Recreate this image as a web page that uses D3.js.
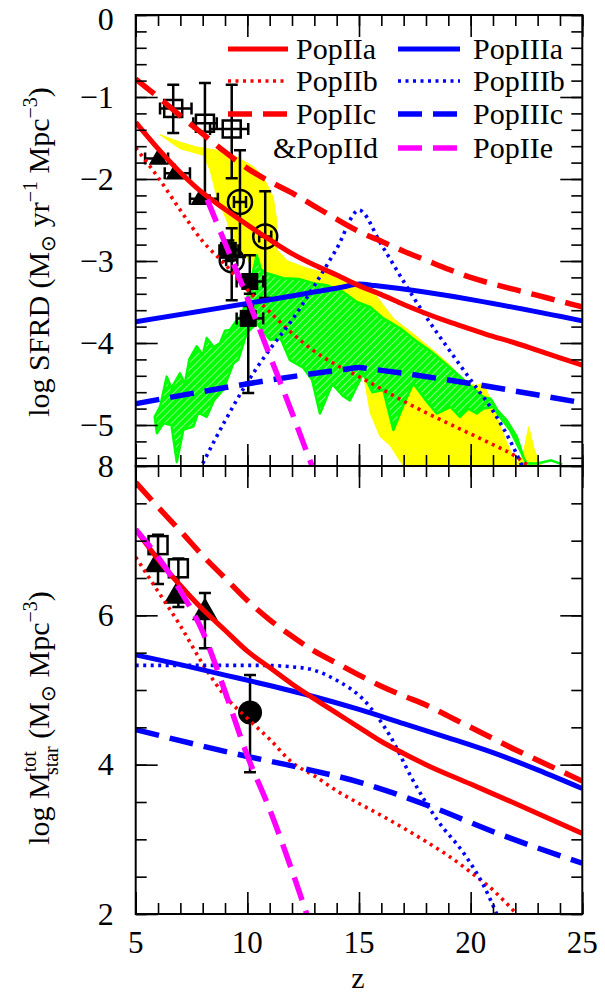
<!DOCTYPE html>
<html><head><meta charset="utf-8">
<script src="https://cdn.jsdelivr.net/npm/d3@7"></script>
<style>
body{margin:0;background:#fff}
svg{display:block}
text{font-family:"Liberation Serif","Times New Roman",serif;fill:#000}
</style>
</head><body>
<svg id="c" width="605" height="995"></svg>
<script>
// ---------------- DATA ----------------
// Top panel: log SFRD vs z
const sfrdPopIIa  = [[5,-1.31],[6,-1.63],[7,-1.92],[8,-2.17],[9,-2.37],[10,-2.56],[11,-2.74],[12,-2.91],[13,-3.05],[14,-3.17],[15,-3.3],[16,-3.41],[17,-3.53],[18,-3.64],[19,-3.74],[20,-3.83],[21,-3.92],[22,-4.0],[23,-4.09],[24,-4.18],[25,-4.27]];
const sfrdPopIIb  = [[5,-1.62],[6,-1.98],[7,-2.38],[8,-2.76],[9,-3.04],[10,-3.35],[11,-3.62],[12,-3.88],[13,-4.1],[14,-4.27],[15,-4.41],[16,-4.56],[17,-4.71],[18,-4.85],[19,-4.98],[20,-5.11],[21,-5.24],[22,-5.38],[22.6,-5.5]];
const sfrdPopIIc  = [[5,-0.78],[6,-1.0],[7,-1.23],[8,-1.45],[9,-1.67],[10,-1.87],[11,-2.03],[12,-2.17],[13,-2.33],[14,-2.49],[15,-2.64],[16,-2.76],[17,-2.88],[18,-2.99],[19,-3.1],[20,-3.2],[21,-3.28],[22,-3.35],[23,-3.42],[24,-3.49],[25,-3.56]];
const sfrdPopIIe  = [[8.2,-2.25],[9,-2.78],[10,-3.45],[11,-4.15],[12,-4.85],[12.8,-5.43],[12.9,-5.5]];
const sfrdPopIIIa = [[5,-3.74],[14.4,-3.31],[15,-3.28],[15.7,-3.3],[25,-3.73]];
const sfrdPopIIIb = [[8,-5.47],[9,-4.95],[10,-4.48],[11,-4.08],[12,-3.72],[13,-3.3],[14,-2.85],[15,-2.38],[16,-2.8],[17,-3.25],[18,-3.68],[19,-4.07],[20,-4.45],[21,-4.83],[22,-5.32],[22.3,-5.5]];
const sfrdPopIIIc = [[5,-4.74],[14.4,-4.32],[15,-4.3],[15.6,-4.32],[25,-4.73]];

// shaded regions (top panel)
const yellowUpper = [[6.09,-1.46],[6.98,-1.55],[7.73,-1.61],[8.63,-1.65],[9.52,-1.73],[10.27,-1.85],[10.7,-1.97],[11.16,-2.22],[11.31,-2.5],[11.35,-2.87],[11.8,-3.0],[12.6,-3.08],[13.5,-3.15],[14.59,-3.22],[15.2,-3.3],[15.79,-3.43],[16.54,-3.7],[17.4,-3.88],[18.33,-4.09],[19.0,-4.25],[19.67,-4.45],[20.2,-4.52],[20.57,-4.49],[20.9,-4.7],[21.17,-4.9],[21.6,-5.2],[22.06,-5.47],[22.35,-5.35],[22.6,-5.02],[22.85,-5.3],[23.15,-5.5]];
const yellowLower = [[23.15,-5.5],[16.98,-5.5],[16.4,-5.25],[15.94,-5.14],[15.5,-4.85],[15.19,-4.37],[14.2,-4.2],[13,-3.95],[12,-3.7],[11,-3.4],[10.3,-3.15],[9.97,-2.95],[9.52,-2.87],[9.07,-2.5],[8.63,-2.22],[8.33,-1.89],[8.03,-1.71],[6.98,-1.63],[6.09,-1.46]];
const greenUpper = [[5.85,-4.9],[6.09,-4.78],[6.39,-4.41],[6.6,-4.55],[6.98,-4.37],[7.2,-4.5],[7.4,-4.2],[7.73,-4.04],[8.0,-4.15],[8.18,-3.94],[8.5,-4.05],[8.78,-4.0],[9.0,-3.85],[9.22,-3.84],[9.45,-3.75],[9.67,-3.68],[9.9,-3.55],[10.12,-3.31],[10.27,-3.11],[10.42,-2.93],[10.6,-3.1],[10.87,-3.15],[11.61,-3.21],[12.3,-3.22],[12.95,-3.27],[13.6,-3.3],[14.3,-3.38],[14.9,-3.5],[15.49,-3.56],[16.09,-3.7],[16.84,-3.82],[17.58,-3.98],[18.3,-4.12],[19.08,-4.3],[19.82,-4.48],[20.57,-4.66],[20.9,-4.68],[21.2,-4.82],[21.61,-4.94],[22.06,-5.14],[22.36,-5.39],[22.5,-5.47]];
const greenLower = [[22.5,-5.47],[22.2,-5.3],[21.76,-5.06],[21.3,-4.9],[21.02,-4.78],[20.57,-4.8],[20.27,-4.86],[19.9,-4.8],[19.52,-4.9],[19.1,-4.78],[18.48,-4.86],[18.0,-4.7],[17.43,-4.49],[17.0,-4.75],[16.54,-5.06],[16.3,-4.8],[16.09,-4.57],[15.6,-4.6],[15.19,-4.37],[14.59,-4.7],[14.3,-4.65],[13.8,-4.5],[13.25,-4.86],[12.9,-4.45],[12.5,-4.3],[11.91,-4.21],[11.5,-3.95],[11.01,-3.96],[10.42,-3.76],[9.97,-3.88],[9.6,-4.2],[9.37,-4.25],[8.92,-4.57],[8.5,-4.7],[8.18,-4.9],[7.8,-4.85],[7.58,-5.02],[7.13,-5.06],[6.84,-5.45],[6.6,-5.0],[6.24,-4.98],[5.95,-5.1],[5.85,-4.9]];
const greenTail = [[22.3,-5.47],[23.0,-5.47],[23.6,-5.43],[24.1,-5.48]];

// observational points, top panel
const obsOpenSquares = [
  {z:6.68,v:-1.14,z0:6.09,z1:7.5,v0:-0.85,v1:-1.44},
  {z:8.1, v:-1.32,z0:7.58,z1:8.63,v0:-0.83,v1:-2.2},
  {z:9.3, v:-1.39,z0:8.33,z1:10.04,v0:-0.85,v1:-1.99}];
const obsOpenCircles = [
  {z:9.67,v:-2.28,z0:9.4,z1:9.94,v0:-1.65,v1:-2.95},
  {z:10.8,v:-2.7,z0:10.53,z1:11.07,v0:-2.15,v1:-3.45},
  {z:9.3,v:-2.99,z0:9.05,z1:9.55,v0:-2.6,v1:-3.48}];
const obsTriangles = [
  {z:6.01,v:-1.75,z0:5.42,z1:6.45},
  {z:6.76,v:-1.93,z0:6.3,z1:7.43},
  {z:7.88,v:-2.24,z0:7.43,z1:8.68}];
const obsFilledSquares = [
  {z:9.15,v:-2.87,z0:8.75,z1:9.6,v0:-2.75,v1:-3.0},
  {z:10.11,v:-3.25,z0:9.52,z1:10.71,v0:-2.93,v1:-3.4},
  {z:10.04,v:-3.7,z0:9.52,z1:10.71,v0:-3.55,v1:-4.61}];

// Bottom panel: log M_star^tot vs z
const mPopIIa  = [[5,7.15],[6,6.75],[7,6.4],[8,6.08],[9,5.8],[10,5.52],[11,5.3],[12,5.08],[13,4.88],[14,4.69],[15,4.5],[16,4.31],[17,4.15],[18,4.0],[20,3.74],[22,3.48],[25,3.08]];
const mPopIIb  = [[5,6.78],[6,6.32],[7,5.86],[8,5.35],[9,4.92],[10,4.62],[11,4.34],[12,4.03],[13,3.85],[14,3.65],[15,3.48],[16,3.32],[17,3.15],[18,2.97],[19,2.78],[20,2.56],[21,2.32],[22.06,2.0]];
const mPopIIc  = [[5,7.78],[6,7.45],[7,7.13],[8,6.8],[9,6.5],[10,6.2],[11,5.94],[12,5.72],[13,5.52],[14,5.36],[15,5.2],[16,5.05],[17,4.92],[18,4.8],[19,4.65],[20,4.5],[21,4.35],[22,4.2],[23,4.06],[24,3.92],[25,3.78]];
const mPopIIe  = [[5,7.15],[6,6.78],[7,6.33],[8,5.78],[9,4.98],[10,4.12],[11,3.4],[12,2.58],[12.66,2.0]];
const mPopIIIa = [[5,5.47],[7,5.34],[9,5.2],[11,5.06],[13,4.91],[15,4.74],[17,4.55],[19,4.36],[21,4.16],[23,3.93],[25,3.68]];
const mPopIIIb = [[5,5.33],[10.7,5.33],[12,5.31],[12.8,5.28],[14,5.13],[15.2,4.87],[16.4,4.38],[17.4,3.8],[18.5,3.26],[19.7,2.81],[20.6,2.37],[21.17,2.0]];
const mPopIIIc = [[5,4.47],[10,4.11],[12.2,3.97],[15.2,3.75],[18.2,3.44],[21.2,3.08],[25,2.68]];

const mObsOpenSquares = [{z:6.0,v:6.94,v0:7.08,v1:6.42},{z:6.91,v:6.63,v0:6.76,v1:6.11}];
const mObsTriangles = [{z:5.86,v:6.67},{z:6.84,v:6.27},{z:8.1,v:6.05,v0:6.3,v1:5.56}];
const mObsCircle = [{z:10.12,v:4.70,v0:5.2,v1:3.9}];

// axes
const zTicksMajor = [5,10,15,20,25];
const zTicksMinor = d3.range(5,26,1);
const sfrdTicksMajor = [0,-1,-2,-3,-4,-5];
const sfrdTicksMinor = d3.range(0,-5.5,-0.2).map(d=>+d.toFixed(1));
const mTicksMajor = [2,4,6,8];
const mTicksMinor = d3.range(2,8.01,0.5);

const legendLeft = [
  {name:"PopIIa",color:"#ff0000",style:"solid"},
  {name:"PopIIb",color:"#ff0000",style:"dotted"},
  {name:"PopIIc",color:"#ff0000",style:"dashed"},
  {name:"&PopIId",color:null,style:null}];
const legendRight = [
  {name:"PopIIIa",color:"#0000ff",style:"solid"},
  {name:"PopIIIb",color:"#0000ff",style:"dotted"},
  {name:"PopIIIc",color:"#0000ff",style:"dashed"},
  {name:"PopIIe",color:"#ff00ff",style:"dashed"}];

// ---------------- DRAW ----------------
const svg = d3.select("#c");
const L=135.7, R=582.3, T1=15, B1=466, B2=914;
const x  = d3.scaleLinear().domain([5,25]).range([L,R]);
const yT = d3.scaleLinear().domain([0,-5.5]).range([T1,B1]);
const yB = d3.scaleLinear().domain([2,8]).range([B2,B1]);

const RED="#ff0000", BLUE="#0000ff", MAG="#ff00ff", GREEN="#00ff00", YEL="#ffff00";
const styles = {
  solid:{w:5,dash:null},
  dotted:{w:3.6,dash:"3,4.5"},
  dashed:{w:5.5,dash:"24,11"}
};

const defs = svg.append("defs");
defs.append("clipPath").attr("id","clipT").append("rect").attr("x",L).attr("y",T1).attr("width",R-L).attr("height",B1-T1);
defs.append("clipPath").attr("id","clipB").append("rect").attr("x",L).attr("y",B1).attr("width",R-L).attr("height",B2-B1);
const pat = defs.append("pattern").attr("id","hatch").attr("patternUnits","userSpaceOnUse")
  .attr("width",5).attr("height",5).attr("patternTransform","rotate(45)");
pat.append("rect").attr("width",5).attr("height",5).attr("fill",GREEN);
pat.append("line").attr("x1",0).attr("y1",0).attr("x2",0).attr("y2",5).attr("stroke","#c8ffc8").attr("stroke-width",1.4);

const gT = svg.append("g").attr("clip-path","url(#clipT)");
const gB = svg.append("g").attr("clip-path","url(#clipB)");

const lineT = d3.line().x(d=>x(d[0])).y(d=>yT(d[1])).curve(d3.curveMonotoneX);
const lineB = d3.line().x(d=>x(d[0])).y(d=>yB(d[1])).curve(d3.curveMonotoneX);
const lineTl = d3.line().x(d=>x(d[0])).y(d=>yT(d[1]));

gT.append("path").attr("d", lineTl(yellowUpper.concat(yellowLower))+"Z").attr("fill",YEL).attr("stroke",YEL).attr("stroke-width",1);
gT.append("path").attr("d", lineTl(greenUpper.concat(greenLower))+"Z").attr("fill","url(#hatch)").attr("stroke",GREEN).attr("stroke-width",2.5).attr("stroke-linejoin","round");
gT.append("path").attr("d", lineTl(greenTail)).attr("fill","none").attr("stroke",GREEN).attr("stroke-width",2.5);

function errBars(g, data, ys, capW){
  data.forEach(d=>{
    if(d.z0!==undefined){
      g.append("line").attr("x1",x(d.z0)).attr("x2",x(d.z1)).attr("y1",ys(d.v)).attr("y2",ys(d.v)).attr("stroke","#000").attr("stroke-width",2.5);
      [d.z0,d.z1].forEach(zz=>g.append("line").attr("x1",x(zz)).attr("x2",x(zz)).attr("y1",ys(d.v)-capW/2).attr("y2",ys(d.v)+capW/2).attr("stroke","#000").attr("stroke-width",2.5));
    }
    if(d.v0!==undefined){
      g.append("line").attr("x1",x(d.z)).attr("x2",x(d.z)).attr("y1",ys(d.v0)).attr("y2",ys(d.v1)).attr("stroke","#000").attr("stroke-width",2.5);
      [d.v0,d.v1].forEach(vv=>g.append("line").attr("x1",x(d.z)-capW/2).attr("x2",x(d.z)+capW/2).attr("y1",ys(vv)).attr("y2",ys(vv)).attr("stroke","#000").attr("stroke-width",2.5));
    }
  });
}
function tri(cx,cy,w){const h=w*0.87;return `M${cx},${cy-h*0.62}L${cx+w/2},${cy+h*0.38}L${cx-w/2},${cy+h*0.38}Z`;}

const pT = gT.append("g");
errBars(pT, obsOpenSquares, yT, 12);
pT.selectAll("rect.os").data(obsOpenSquares).join("rect").attr("x",d=>x(d.z)-9).attr("y",d=>yT(d.v)-8.5).attr("width",18).attr("height",17).attr("fill","none").attr("stroke","#000").attr("stroke-width",2.5);
errBars(pT, obsOpenCircles, yT, 12);
pT.selectAll("circle.oc").data(obsOpenCircles).join("circle").attr("cx",d=>x(d.z)).attr("cy",d=>yT(d.v)).attr("r",12).attr("fill","none").attr("stroke","#000").attr("stroke-width",2.5);
errBars(pT, obsTriangles, yT, 12);
pT.selectAll("path.tr").data(obsTriangles).join("path").attr("d",d=>tri(x(d.z),yT(d.v),19)).attr("fill","#000");
errBars(pT, obsFilledSquares, yT, 12);
pT.selectAll("rect.fs").data(obsFilledSquares).join("rect").attr("x",d=>x(d.z)-8.5).attr("y",d=>yT(d.v)-8.5).attr("width",17).attr("height",17).attr("fill","#000");

function drawCurve(g, data, gen, color, style){
  const s = styles[style];
  g.append("path").attr("d",gen(data)).attr("fill","none").attr("stroke",color).attr("stroke-width",s.w)
   .attr("stroke-dasharray",s.dash).attr("stroke-linejoin","round");
}
drawCurve(gT, sfrdPopIIb, lineT, RED, "dotted");
drawCurve(gT, sfrdPopIIIb, lineT, BLUE, "dotted");
drawCurve(gT, sfrdPopIIIc, lineT, BLUE, "dashed");
drawCurve(gT, sfrdPopIIIa, lineT, BLUE, "solid");
drawCurve(gT, sfrdPopIIa, lineT, RED, "solid");
drawCurve(gT, sfrdPopIIc, lineT, RED, "dashed");
drawCurve(gT, sfrdPopIIe, lineT, MAG, "dashed");

const pB = gB.append("g");
errBars(pB, mObsOpenSquares, yB, 12);
pB.selectAll("rect.os").data(mObsOpenSquares).join("rect").attr("x",d=>x(d.z)-9.5).attr("y",d=>yB(d.v)-9).attr("width",19).attr("height",18).attr("fill","none").attr("stroke","#000").attr("stroke-width",2.5);
errBars(pB, mObsTriangles, yB, 12);
pB.selectAll("path.tr").data(mObsTriangles).join("path").attr("d",(d,i)=>tri(x(d.z),yB(d.v),i==0?21:26)).attr("fill","#000");
errBars(pB, mObsCircle, yB, 12);
pB.selectAll("circle.fc").data(mObsCircle).join("circle").attr("cx",d=>x(d.z)).attr("cy",d=>yB(d.v)).attr("r",12).attr("fill","#000");

drawCurve(gB, mPopIIb, lineB, RED, "dotted");
drawCurve(gB, mPopIIIb, lineB, BLUE, "dotted");
drawCurve(gB, mPopIIIc, lineB, BLUE, "dashed");
drawCurve(gB, mPopIIIa, lineB, BLUE, "solid");
drawCurve(gB, mPopIIa, lineB, RED, "solid");
drawCurve(gB, mPopIIc, lineB, RED, "dashed");
drawCurve(gB, mPopIIe, lineB, MAG, "dashed");

// ---------------- AXES ----------------
function clean(g){g.select(".domain").remove();g.selectAll(".tick line").attr("stroke","#000").attr("stroke-width",1.6);g.selectAll("text").remove();}
[[yT,sfrdTicksMajor,sfrdTicksMinor],[yB,mTicksMajor,mTicksMinor]].forEach(([ys,maj,mn])=>{
  svg.append("g").attr("transform",`translate(${L},0)`).call(d3.axisLeft(ys).tickValues(mn).tickSize(-11)).call(clean);
  svg.append("g").attr("transform",`translate(${L},0)`).call(d3.axisLeft(ys).tickValues(maj).tickSize(-22)).call(clean);
  svg.append("g").attr("transform",`translate(${R},0)`).call(d3.axisRight(ys).tickValues(mn).tickSize(-11)).call(clean);
  svg.append("g").attr("transform",`translate(${R},0)`).call(d3.axisRight(ys).tickValues(maj).tickSize(-22)).call(clean);
});
[[T1,d3.axisTop],[B1,d3.axisBottom],[B1,d3.axisTop],[B2,d3.axisBottom]].forEach(([yy,fn])=>{
  svg.append("g").attr("transform",`translate(0,${yy})`).call(fn(x).tickValues(zTicksMinor).tickSize(-11)).call(clean);
  svg.append("g").attr("transform",`translate(0,${yy})`).call(fn(x).tickValues(zTicksMajor).tickSize(-22)).call(clean);
});
svg.append("rect").attr("x",L).attr("y",T1).attr("width",R-L).attr("height",B1-T1).attr("fill","none").attr("stroke","#000").attr("stroke-width",2);
svg.append("rect").attr("x",L).attr("y",B1).attr("width",R-L).attr("height",B2-B1).attr("fill","none").attr("stroke","#000").attr("stroke-width",2);

// tick labels
const fmt = d3.format("d");
svg.selectAll("text.yl1").data(sfrdTicksMajor).join("text").attr("x",L-22).attr("y",d=>d===0?yT(d)+4:yT(d)).attr("dy","0.33em")
  .attr("text-anchor","end").attr("font-size",32).text(d=>fmt(d));
svg.selectAll("text.yl2").data(mTicksMajor).join("text").attr("x",L-22).attr("y",d=>yB(d)).attr("dy","0.33em")
  .attr("text-anchor","end").attr("font-size",32).text(d=>fmt(d));
svg.selectAll("text.xl").data(zTicksMajor).join("text").attr("x",d=>x(d)).attr("y",B2+39)
  .attr("text-anchor","middle").attr("font-size",31).text(d=>fmt(d));
svg.append("text").attr("x",358).attr("y",988).attr("text-anchor","middle").attr("font-size",30).text("z");

// y titles
const t1 = svg.append("text").attr("transform","translate(49,252) rotate(-90)").attr("text-anchor","middle").attr("font-size",30);
t1.append("tspan").text("log SFRD (M");
t1.append("tspan").attr("font-size",20).attr("dy",6).text("⊙");
t1.append("tspan").attr("dy",-6).text(" yr");
t1.append("tspan").attr("font-size",20).attr("dy",-12).text("−1");
t1.append("tspan").attr("dy",12).text(" Mpc");
t1.append("tspan").attr("font-size",20).attr("dy",-12).text("−3");
t1.append("tspan").attr("dy",12).text(")");

const t2 = svg.append("text").attr("transform","translate(49,718) rotate(-90)").attr("text-anchor","middle").attr("font-size",30);
t2.append("tspan").text("log  M");
t2.append("tspan").attr("font-size",20).attr("dy",-13).text("tot");
t2.append("tspan").attr("font-size",20).attr("dx",-24).attr("dy",22).text("star");
t2.append("tspan").attr("dy",-9).text(" (M");
t2.append("tspan").attr("font-size",20).attr("dy",6).text("⊙");
t2.append("tspan").attr("dy",-6).text(" Mpc");
t2.append("tspan").attr("font-size",20).attr("dy",-12).text("−3");
t2.append("tspan").attr("dy",12).text(")");

// legend
const rowsY = [49,81,114,148];
function legendCol(items, x1, x2, tx){
  items.forEach((it,i)=>{
    if(it.color){
      const s = styles[it.style];
      svg.append("line").attr("x1",x1).attr("x2",x2).attr("y1",rowsY[i]).attr("y2",rowsY[i])
        .attr("stroke",it.color).attr("stroke-width",s.w).attr("stroke-dasharray",s.dash);
    }
    svg.append("text").attr("x",it.color?tx:273).attr("y",rowsY[i]).attr("dy","0.33em").attr("font-size",30).text(it.name);
  });
}
legendCol(legendLeft, 228, 288, 296);
legendCol(legendRight, 398, 460, 473);
</script>
</body></html>
